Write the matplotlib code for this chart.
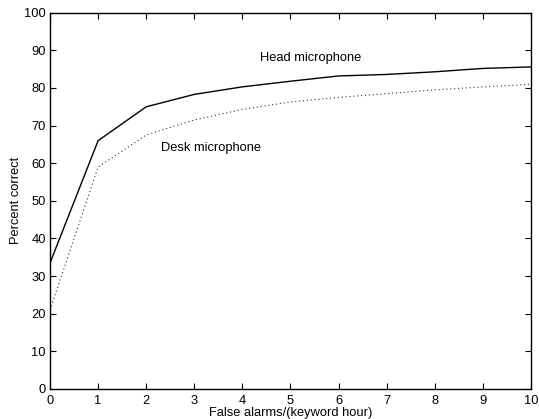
import matplotlib
matplotlib.use("Agg")
import matplotlib.pyplot as plt

false_alarms = [0, 1, 2, 3, 4, 5, 6, 7, 8, 9, 10]
head_mic = [33.5, 66.0, 75.0, 78.3, 80.3, 81.8, 83.2, 83.6, 84.3, 85.2, 85.6]
desk_mic = [21.0, 59.0, 67.5, 71.5, 74.3, 76.3, 77.5, 78.5, 79.5, 80.3, 81.0]
x_ticks = list(range(0, 11))
y_ticks = list(range(0, 101, 10))

plt.rcParams['font.family'] = ['Liberation Sans', 'DejaVu Sans']
FS = 9.3
fig = plt.figure(figsize=(5.39, 4.19), dpi=100)
ax = fig.add_axes([0.0928, 0.0716, 0.8922, 0.898])
ax.plot(false_alarms, head_mic, color='black', linewidth=1.0)
ax.plot(false_alarms, desk_mic, color='#333333', linewidth=0.8, linestyle=(0, (1, 2.5)))
ax.set_xlim(0, 10)
ax.set_ylim(0, 100)
ax.set_xticks(x_ticks)
ax.set_yticks(y_ticks)
ax.tick_params(direction='in', top=True, right=True, labelsize=FS, length=4, pad=3)
ax.tick_params(axis='x', pad=4.5)
for s in ax.spines.values():
    s.set_linewidth(1.0)
ax.text(4.37, 88.0, 'Head microphone', fontsize=FS, va='center', ha='left')
ax.text(2.3, 64.0, 'Desk microphone', fontsize=FS, va='center', ha='left')
ax.set_xlabel('False alarms/(keyword hour)', fontsize=FS, labelpad=0)
ax.set_ylabel('Percent correct', fontsize=FS, labelpad=1.5)
fig.savefig('out.png', dpi=100)
